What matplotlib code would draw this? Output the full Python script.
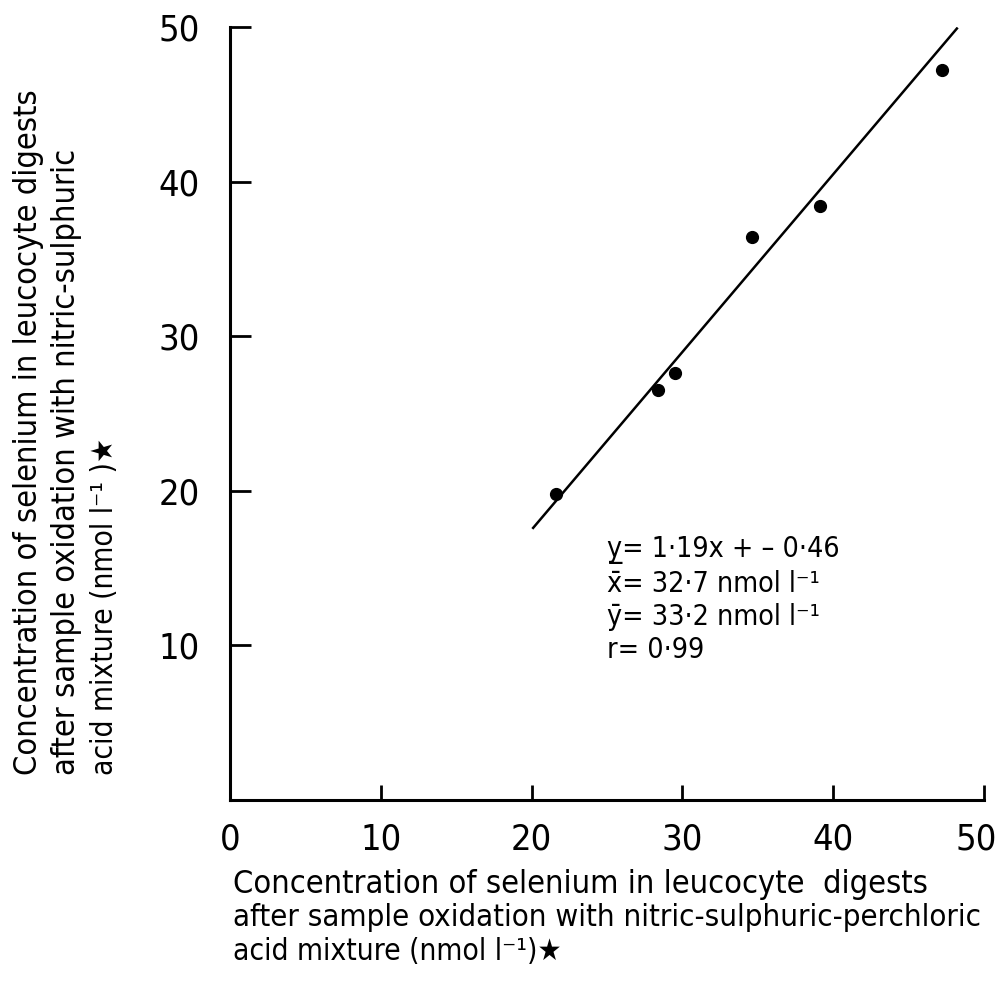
import matplotlib
matplotlib.use("Agg")
import matplotlib.pyplot as plt
import matplotlib.transforms as mtransforms
from matplotlib.font_manager import FontProperties

# ---- data ----
x_vals = [21.6, 28.4, 29.5, 34.6, 39.1, 47.2]
y_vals = [19.8, 26.5, 27.6, 36.4, 38.4, 47.2]
fit_x = [20.1, 48.2]
fit_y = [17.6, 49.9]
x_ticks = [0, 10, 20, 30, 40, 50]
y_ticks = [10, 20, 30, 40, 50]
x_label_lines = ["Concentration of selenium in leucocyte  digests",
                 "after sample oxidation with nitric-sulphuric-perchloric",
                 "acid mixture (nmol l\u207b\u00b9)\u2605"]
y_label_lines = ["Concentration of selenium in leucocyte digests",
                 "after sample oxidation with nitric-sulphuric",
                 "acid mixture (nmol l\u207b\u00b9 )\u2605"]
stats_lines = ["y\u0332= 1\u00b719x + \u2013 0\u00b746",
               "x\u0304= 32\u00b77 nmol l\u207b\u00b9",
               "y\u0304= 33\u00b72 nmol l\u207b\u00b9",
               "r= 0\u00b799"]

def fp(size):
    return FontProperties(family="DejaVu Sans", stretch="condensed", size=size)

fp_tick = fp(26)
x_lab_sizes = [23.3, 22.4, 21.5]
y_lab_sizes = [23.3, 23.3, 21.5]
fp_stat = fp(20.5)

fig = plt.figure(figsize=(9.98, 9.99), dpi=100)
ax = fig.add_axes([0.2305, 0.1992, 0.7555, 0.7738])
ax.set_xlim(0, 50)
ax.set_ylim(0, 50)

ax.plot(fit_x, fit_y, color="black", lw=1.8)
ax.plot(x_vals, y_vals, "o", color="black", ms=8.5)

for s in ["top", "right"]:
    ax.spines[s].set_visible(False)
for s in ["left", "bottom"]:
    ax.spines[s].set_linewidth(2.2)

ax.set_xticks(x_ticks)
ax.set_yticks(y_ticks)
ax.set_xticklabels([str(v) for v in x_ticks])
ax.set_yticklabels([str(v) for v in y_ticks])
ax.tick_params(axis="x", direction="in", length=11, width=2, pad=16)
ax.tick_params(axis="y", direction="in", length=15, width=2, pad=22)
for lab in ax.get_xticklabels() + ax.get_yticklabels():
    lab.set_fontproperties(fp_tick)
last = ax.get_xticklabels()[-1]
last.set_transform(last.get_transform() +
                   mtransforms.ScaledTranslation(-8 / 100, 0, fig.dpi_scale_trans))

# x label (three lines, left aligned)
for i, line in enumerate(x_label_lines):
    fig.text(0.233, 1 - (885 + 33 * i) / 999, line, fontproperties=fp(x_lab_sizes[i]),
             ha="left", va="center")
# y label
for i, line in enumerate(y_label_lines):
    fig.text((29 + 38 * i) / 998, 1 - 775 / 999, line, fontproperties=fp(y_lab_sizes[i]),
             rotation=90, ha="center", va="bottom")
# statistics text
for i, line in enumerate(stats_lines):
    fig.text(607 / 998, 1 - (550 + 33.5 * i) / 999, line, fontproperties=fp_stat,
             ha="left", va="center")

fig.savefig("out.png", dpi=100)
